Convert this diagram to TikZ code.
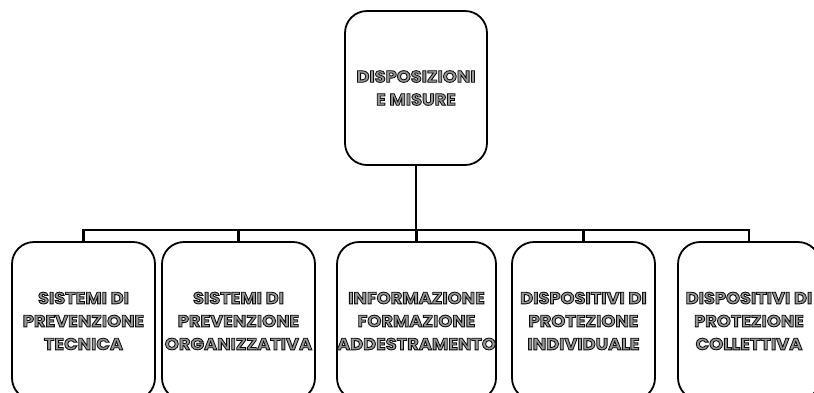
\documentclass[tikz,border=0pt]{standalone}
\usepackage{fontspec}
\setmainfont{Poppins}[FakeStretch=1.08]
\definecolor{olfill}{gray}{0.6}
\newcommand{\olstyle}{\color{olfill}\special{pdf:literal direct 2 Tr 0.85 w 0.05 G}}
\begin{document}
\begin{tikzpicture}[x=1pt,y=-1pt,
  box/.style={draw, line width=1.8pt, rounded corners=22pt, align=center,
    inner sep=0pt, font=\fontsize{16.5}{23}\selectfont\bfseries},
  conn/.style={draw, line width=2.8pt}]
\useasboundingbox (0,0) rectangle (814,392);
\clip (0,0) rectangle (814,392);
\node[box, minimum width=142pt, minimum height=154pt] (top) at (416,88) {\olstyle DISPOSIZIONI\\\olstyle E MISURE};
\node[box, minimum width=143pt, minimum height=158pt] (b1) at (83.5,321) {\olstyle SISTEMI DI\\\olstyle PREVENZIONE\\\olstyle TECNICA};
\node[box, minimum width=153pt, minimum height=158pt] (b2) at (238.5,321) {\olstyle SISTEMI DI\\\olstyle PREVENZIONE\\\olstyle ORGANIZZATIVA};
\node[box, minimum width=159pt, minimum height=158pt] (b3) at (416.5,321) {\olstyle INFORMAZIONE\\\olstyle FORMAZIONE\\\olstyle ADDESTRAMENTO};
\node[box, minimum width=143pt, minimum height=158pt] (b4) at (583.5,321) {\olstyle DISPOSITIVI DI\\\olstyle PROTEZIONE\\\olstyle INDIVIDUALE};
\node[box, minimum width=142pt, minimum height=158pt] (b5) at (749,321) {\olstyle DISPOSITIVI DI\\\olstyle PROTEZIONE\\\olstyle COLLETTIVA};
\coordinate (bus) at (416,230);
\draw[conn] (top.south) -- (top.south |- bus);
\draw[conn, line cap=rect] (b1.north |- bus) -- (b5.north |- bus);
\foreach \b in {b1,b2,b3,b4,b5} \draw[conn] (\b.north) -- (\b.north |- bus);
\end{tikzpicture}
\end{document}
